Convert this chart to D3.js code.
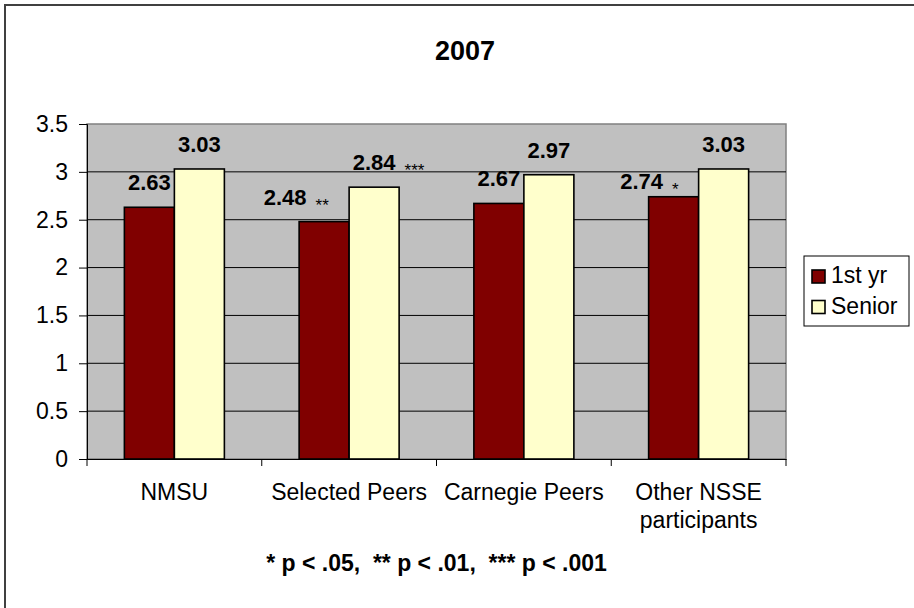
<!DOCTYPE html>
<html lang="en">

<head>
    <meta charset="UTF-8">
    <title>2007</title>
    <style>
        body { margin: 0; background: #fff; }
        svg text { font-family: "Liberation Sans", Arial, sans-serif; }
    </style>
</head>

<body>
    <div>
        <svg id="barChart"></svg>
    </div>
    <script src="https://d3js.org/d3.v7.min.js" type="text/javascript"></script>
    <script type="text/javascript">
        const categories = ["NMSU", "Selected Peers", "Carnegie Peers", "Other NSSE participants"];
        const seriesNames = ["1st yr", "Senior"];
        const firstYr = [2.63, 2.48, 2.67, 2.74];
        const senior = [3.03, 2.84, 2.97, 3.03];
        const firstYrSig = ["", "**", "", "*"];
        const seniorSig = ["", "***", "", ""];
        const yTicks = [0, 0.5, 1, 1.5, 2, 2.5, 3, 3.5];
        const title = "2007";
        const footnote = "* p < .05,  ** p < .01,  *** p < .001";

        window.onload = function () {
            drawBarChart();
        }

        function drawBarChart() {
            const W = 914, H = 608;
            const margin = { top: 124, right: 128, bottom: 149, left: 87 }; // plot area inside the frame
            const width = W - margin.left - margin.right;
            const height = H - margin.top - margin.bottom;
            const colors = ["#800000", "#ffffcc"];
            const fs = 23;

            // label nudges (px) for the manually placed Excel labels
            const nudge = { "1|0": [-39, 0], "3|0": [-32, 9] };

            let chart = d3.select("#barChart").attr("width", W).attr("height", H);

            // outer chart frame (only top/left edges visible)
            chart.append("path")
                .attr("d", "M5," + H + "V5H" + W)
                .attr("fill", "none")
                .attr("stroke", "#404040")
                .attr("stroke-width", 2);

            let x = d3.scaleBand().domain(categories).range([0, width]);
            let xs = d3.scaleBand().domain([0, 1]).range([0, x.bandwidth()]).paddingOuter(0.7475);
            let y = d3.scaleLinear().domain([0, 3.5]).range([height, 0]);

            let g = chart.append("g").attr("transform", "translate(" + margin.left + "," + margin.top + ")");

            g.append("rect") // plot background
                .attr("width", width)
                .attr("height", height)
                .attr("fill", "#c0c0c0")
                .attr("stroke", "#808080")
                .attr("stroke-width", 1.5);

            g.append("g") // gridlines
                .selectAll("line")
                .data(yTicks.filter(d => d > 0 && d < 3.5))
                .enter().append("line")
                .attr("x1", 0).attr("x2", width)
                .attr("y1", d => y(d)).attr("y2", d => y(d))
                .attr("stroke", "#000").attr("stroke-width", 1);

            let yAxis = g.append("g")
                .call(d3.axisLeft(y).tickValues(yTicks).tickSize(8).tickPadding(11).tickFormat(d3.format("")));
            yAxis.select(".domain").attr("stroke", "#000");
            yAxis.selectAll("text").attr("font-size", fs).attr("fill", "#000").attr("font-family", null);

            let xAxis = g.append("g")
                .attr("transform", "translate(0," + height + ")")
                .call(d3.axisBottom(x).tickSize(0).tickPadding(0).tickFormat(""));
            xAxis.select(".domain").attr("stroke", "#000");
            xAxis.selectAll(".tick").remove();
            xAxis.selectAll(".cat-tick") // ticks between categories
                .data(d3.range(categories.length + 1))
                .enter().append("line")
                .attr("x1", i => i * x.step()).attr("x2", i => i * x.step())
                .attr("y1", 0).attr("y2", 7)
                .attr("stroke", "#000");

            // category labels, wrapped to band width
            let cats = g.append("g").selectAll("text")
                .data(categories)
                .enter().append("text")
                .attr("x", d => x(d) + x.bandwidth() / 2)
                .attr("y", height + 41)
                .attr("text-anchor", "middle")
                .attr("font-size", fs)
                .attr("fill", "#000");
            cats.each(function (d) {
                let el = d3.select(this);
                let words = d.split(" "), line = [], lines = [];
                let probe = el.append("tspan");
                words.forEach(function (w) {
                    line.push(w);
                    probe.text(line.join(" "));
                    if (probe.node().getComputedTextLength() > x.bandwidth() - 4 && line.length > 1) {
                        line.pop();
                        lines.push(line.join(" "));
                        line = [w];
                    }
                });
                lines.push(line.join(" "));
                probe.remove();
                lines.forEach(function (l, i) {
                    el.append("tspan")
                        .attr("x", x(d) + x.bandwidth() / 2)
                        .attr("dy", i === 0 ? 0 : 28)
                        .text(l);
                });
            });

            // bars
            let rows = categories.map((c, i) => ({
                cat: c, ci: i,
                vals: [
                    { s: 0, v: firstYr[i], sig: firstYrSig[i] },
                    { s: 1, v: senior[i], sig: seniorSig[i] }
                ]
            }));

            let groups = g.selectAll("g.rgroups")
                .data(rows)
                .enter().append("g")
                .attr("class", "rgroups")
                .attr("transform", d => "translate(" + x(d.cat) + ",0)");

            groups.selectAll("rect")
                .data(d => d.vals)
                .enter().append("rect")
                .attr("x", d => xs(d.s))
                .attr("y", d => y(d.v))
                .attr("width", xs.bandwidth())
                .attr("height", d => height - y(d.v))
                .attr("fill", d => colors[d.s])
                .attr("stroke", "#000")
                .attr("stroke-width", 1.6);

            // value labels (+ significance stars)
            groups.each(function (row) {
                let grp = d3.select(this);
                row.vals.forEach(function (d) {
                    let nd = nudge[row.ci + "|" + d.s] || [0, 0];
                    let cx = xs(d.s) + xs.bandwidth() / 2 + nd[0];
                    let cy = y(d.v) - 17 + nd[1];
                    let t = grp.append("text")
                        .attr("x", cx)
                        .attr("y", cy)
                        .attr("text-anchor", "middle")
                        .attr("font-size", 22)
                        .attr("font-weight", "bold")
                        .attr("fill", "#000")
                        .text(d.v.toFixed(2));
                    if (d.sig) {
                        let w = t.node().getComputedTextLength();
                        grp.append("text")
                            .attr("x", cx + w / 2 + 9)
                            .attr("y", cy + 6)
                            .attr("font-size", 17)
                            .attr("fill", "#000")
                            .text(d.sig);
                    }
                });
            });

            // legend
            let lg = chart.append("g").attr("transform", "translate(804,256)");
            lg.append("rect")
                .attr("width", 105).attr("height", 70)
                .attr("fill", "#fff").attr("stroke", "#000").attr("stroke-width", 1);
            let items = lg.selectAll("g.item")
                .data(seriesNames)
                .enter().append("g")
                .attr("transform", (d, i) => "translate(8," + (14 + i * 30.5) + ")");
            items.append("rect")
                .attr("width", 13).attr("height", 13)
                .attr("fill", (d, i) => colors[i])
                .attr("stroke", "#000").attr("stroke-width", 1.6);
            items.append("text")
                .attr("x", 19).attr("y", 13)
                .attr("font-size", fs).attr("fill", "#000")
                .text(d => d);

            chart.append("text") // title
                .attr("x", 465)
                .attr("y", 60)
                .attr("text-anchor", "middle")
                .attr("font-size", 27)
                .attr("font-weight", "bold")
                .text(title);

            chart.append("text") // footnote
                .attr("x", margin.left + width / 2)
                .attr("y", 571)
                .attr("text-anchor", "middle")
                .attr("font-size", 23)
                .attr("font-weight", "bold")
                .style("white-space", "pre")
                .attr("xml:space", "preserve")
                .text(footnote);
        }
    </script>
</body>

</html>
